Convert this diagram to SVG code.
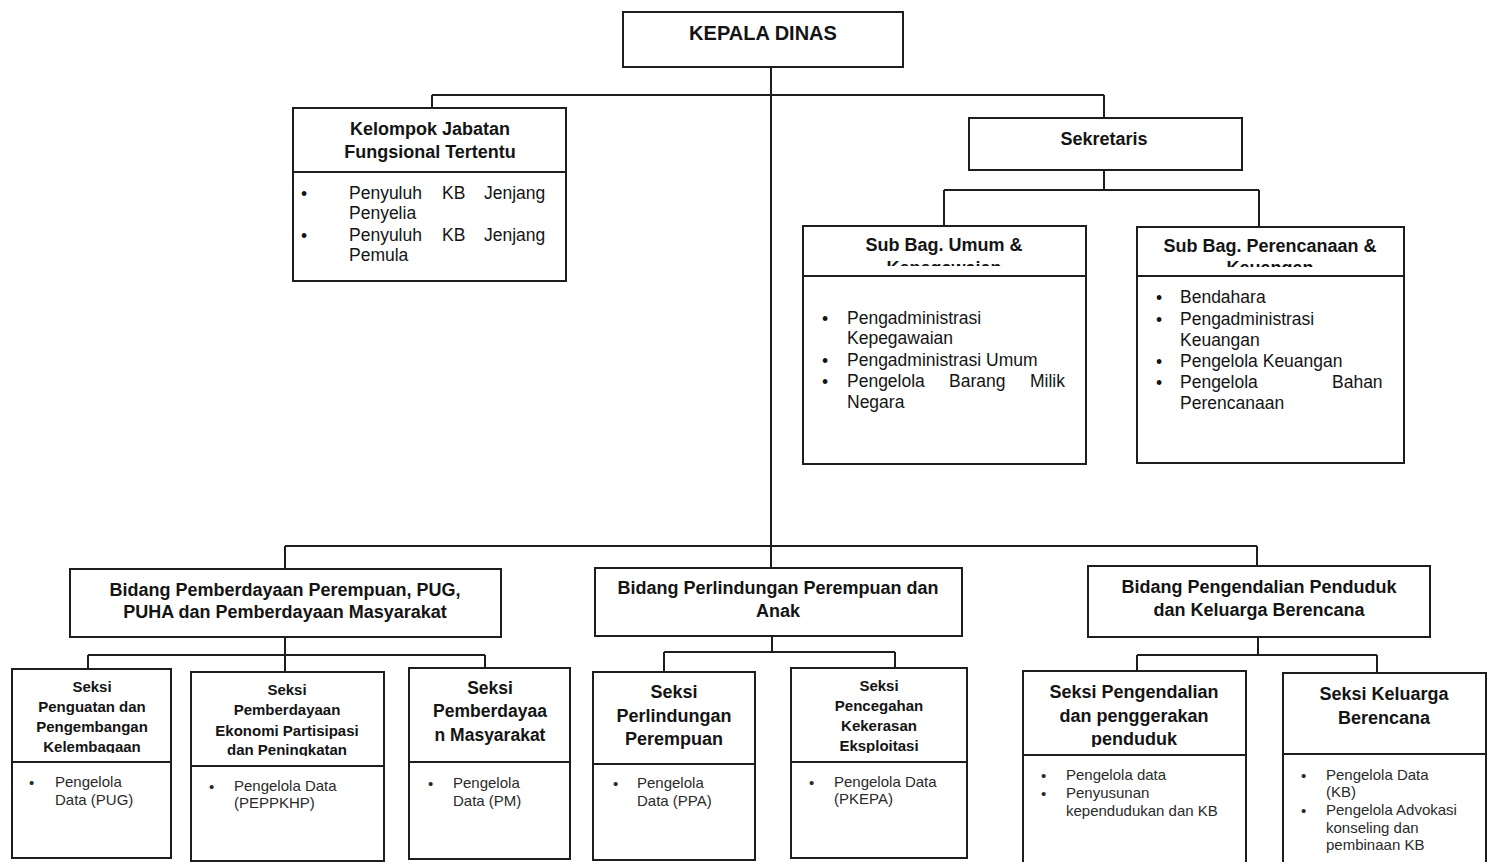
<svg xmlns="http://www.w3.org/2000/svg" width="1492" height="862" viewBox="0 0 1492 862">
<style>
.box{fill:#fff;stroke:#1e1e1e;stroke-width:2}
.ln{fill:none;stroke:#1e1e1e;stroke-width:2}
text{font-family:"Liberation Sans",Arial,sans-serif;fill:#141414}
.h{font-weight:bold;text-anchor:middle}
.h20{font-size:20px}
.h18{font-size:18px}
.h17{font-size:17.5px}
.h15{font-size:15px}
.r18{font-size:17.5px}
.r15{font-size:15px;fill:#2a2a2a}
</style>
<defs>
<clipPath id="cUmum"><rect x="803" y="226" width="283" height="40"/></clipPath>
<clipPath id="cRen"><rect x="1137" y="227" width="267" height="40"/></clipPath>
<clipPath id="cS1"><rect x="12" y="669" width="159" height="84"/></clipPath>
<clipPath id="cS2"><rect x="191" y="672" width="193" height="84"/></clipPath>
<clipPath id="cS5"><rect x="791" y="668" width="176" height="85"/></clipPath>
<clipPath id="cS6"><rect x="1023" y="671" width="223" height="76"/></clipPath>
</defs>

<g id="connectors">
<path class="ln" d="M771 67V568M432 95H1104M432 95V108M1104 95V118"/>
<path class="ln" d="M1104 170V190M944 190H1259M944 190V226M1259 190V227"/>
<path class="ln" d="M285 546H1257M285 546V569M1257 546V566"/>
<path class="ln" d="M285 637V655M88 655H485M88 655V669M285 655V672M485 655V668"/>
<path class="ln" d="M772 636V652M664 652H895M664 652V672M895 652V668"/>
<path class="ln" d="M1258 637V655M1137 655H1377M1137 655V671M1377 655V673"/>
</g>

<g id="kepala-dinas">
<rect class="box" x="623" y="12" width="280" height="55"/>
<text class="h h20" x="763" y="40">KEPALA DINAS</text>
</g>

<g id="kelompok-jabatan">
<rect class="box" x="293" y="108" width="273" height="173"/>
<path class="ln" d="M293 172H566"/>
<text class="h h18" x="430" y="135">Kelompok Jabatan</text>
<text class="h h18" x="430" y="158">Fungsional Tertentu</text>
<text class="r18" x="301" y="200">•</text>
<text class="r18" y="199"><tspan x="349">Penyuluh</tspan><tspan x="442">KB</tspan><tspan x="484">Jenjang</tspan></text>
<text class="r18" x="349" y="219">Penyelia</text>
<text class="r18" x="301" y="242">•</text>
<text class="r18" y="241"><tspan x="349">Penyuluh</tspan><tspan x="442">KB</tspan><tspan x="484">Jenjang</tspan></text>
<text class="r18" x="349" y="261">Pemula</text>
</g>

<g id="sekretaris">
<rect class="box" x="969" y="118" width="273" height="52"/>
<text class="h h18" x="1104" y="145">Sekretaris</text>
</g>

<g id="subbag-umum">
<rect class="box" x="803" y="226" width="283" height="238"/>
<path class="ln" d="M803 276H1086"/>
<text class="h h18" x="944" y="251">Sub Bag. Umum &amp;</text>
<text class="h h18" x="944" y="274" clip-path="url(#cUmum)">Kepegawaian</text>
<text class="r18" x="822" y="325">•</text>
<text class="r18" x="847" y="324">Pengadministrasi</text>
<text class="r18" x="847" y="344">Kepegawaian</text>
<text class="r18" x="822" y="367">•</text>
<text class="r18" x="847" y="366">Pengadministrasi Umum</text>
<text class="r18" x="822" y="388">•</text>
<text class="r18" y="387"><tspan x="847">Pengelola</tspan><tspan x="949">Barang</tspan><tspan x="1030">Milik</tspan></text>
<text class="r18" x="847" y="408">Negara</text>
</g>

<g id="subbag-perencanaan">
<rect class="box" x="1137" y="227" width="267" height="236"/>
<path class="ln" d="M1137 276H1404"/>
<text class="h h18" x="1270" y="252">Sub Bag. Perencanaan &amp;</text>
<text class="h h18" x="1270" y="274" clip-path="url(#cRen)">Keuangan</text>
<text class="r18" x="1156" y="304">•</text>
<text class="r18" x="1180" y="303">Bendahara</text>
<text class="r18" x="1156" y="326">•</text>
<text class="r18" x="1180" y="325">Pengadministrasi</text>
<text class="r18" x="1180" y="346">Keuangan</text>
<text class="r18" x="1156" y="368">•</text>
<text class="r18" x="1180" y="367">Pengelola Keuangan</text>
<text class="r18" x="1156" y="389">•</text>
<text class="r18" y="388"><tspan x="1180">Pengelola</tspan><tspan x="1332">Bahan</tspan></text>
<text class="r18" x="1180" y="409">Perencanaan</text>
</g>

<g id="bidang-pemberdayaan">
<rect class="box" x="70" y="569" width="431" height="68"/>
<text class="h h18" x="285" y="596">Bidang Pemberdayaan Perempuan, PUG,</text>
<text class="h h18" x="285" y="618">PUHA dan Pemberdayaan Masyarakat</text>
</g>

<g id="bidang-perlindungan">
<rect class="box" x="595" y="568" width="367" height="68"/>
<text class="h h18" x="778" y="594">Bidang Perlindungan Perempuan dan</text>
<text class="h h18" x="778" y="617">Anak</text>
</g>

<g id="bidang-pengendalian">
<rect class="box" x="1088" y="566" width="342" height="71"/>
<text class="h h18" x="1259" y="593">Bidang Pengendalian Penduduk</text>
<text class="h h18" x="1259" y="616">dan Keluarga Berencana</text>
</g>

<g id="seksi-penguatan">
<rect class="box" x="12" y="669" width="159" height="189"/>
<path class="ln" d="M12 762H171"/>
<g clip-path="url(#cS1)">
<text class="h h15" x="92" y="692">Seksi</text>
<text class="h h15" x="92" y="712">Penguatan dan</text>
<text class="h h15" x="92" y="732">Pengembangan</text>
<text class="h h15" x="92" y="752">Kelembagaan</text>
</g>
<text class="r15" x="29" y="788">•</text>
<text class="r15" x="55" y="787">Pengelola</text>
<text class="r15" x="55" y="805">Data (PUG)</text>
</g>

<g id="seksi-ekonomi">
<rect class="box" x="191" y="672" width="193" height="189"/>
<path class="ln" d="M191 766H384"/>
<g clip-path="url(#cS2)">
<text class="h h15" x="287" y="695">Seksi</text>
<text class="h h15" x="287" y="715">Pemberdayaan</text>
<text class="h h15" x="287" y="736">Ekonomi Partisipasi</text>
<text class="h h15" x="287" y="755">dan Peningkatan</text>
</g>
<text class="r15" x="209" y="792">•</text>
<text class="r15" x="234" y="791">Pengelola Data</text>
<text class="r15" x="234" y="808">(PEPPKHP)</text>
</g>

<g id="seksi-masyarakat">
<rect class="box" x="409" y="668" width="161" height="191"/>
<path class="ln" d="M409 762H570"/>
<text class="h h17" x="490" y="694">Seksi</text>
<text class="h h17" x="490" y="717">Pemberdayaa</text>
<text class="h h17" x="490" y="741">n Masyarakat</text>
<text class="r15" x="428" y="789">•</text>
<text class="r15" x="453" y="788">Pengelola</text>
<text class="r15" x="453" y="806">Data (PM)</text>
</g>

<g id="seksi-perlindungan">
<rect class="box" x="593" y="672" width="162" height="188"/>
<path class="ln" d="M593 764H755"/>
<text class="h h18" x="674" y="698">Seksi</text>
<text class="h h18" x="674" y="722">Perlindungan</text>
<text class="h h18" x="674" y="745">Perempuan</text>
<text class="r15" x="613" y="789">•</text>
<text class="r15" x="637" y="788">Pengelola</text>
<text class="r15" x="637" y="806">Data (PPA)</text>
</g>

<g id="seksi-pencegahan">
<rect class="box" x="791" y="668" width="176" height="190"/>
<path class="ln" d="M791 762H967"/>
<g clip-path="url(#cS5)">
<text class="h h15" x="879" y="691">Seksi</text>
<text class="h h15" x="879" y="711">Pencegahan</text>
<text class="h h15" x="879" y="731">Kekerasan</text>
<text class="h h15" x="879" y="751">Eksploitasi</text>
</g>
<text class="r15" x="809" y="788">•</text>
<text class="r15" x="834" y="787">Pengelola Data</text>
<text class="r15" x="834" y="804">(PKEPA)</text>
</g>

<g id="seksi-pengendalian">
<rect class="box" x="1023" y="671" width="223" height="200"/>
<path class="ln" d="M1023 755H1246"/>
<g clip-path="url(#cS6)">
<text class="h h18" x="1134" y="698">Seksi Pengendalian</text>
<text class="h h18" x="1134" y="722">dan penggerakan</text>
<text class="h h18" x="1134" y="745">penduduk</text>
</g>
<text class="r15" x="1041" y="781">•</text>
<text class="r15" x="1066" y="780">Pengelola data</text>
<text class="r15" x="1041" y="799">•</text>
<text class="r15" x="1066" y="798">Penyusunan</text>
<text class="r15" x="1066" y="816">kependudukan dan KB</text>
</g>

<g id="seksi-kb">
<rect class="box" x="1283" y="673" width="203" height="200"/>
<path class="ln" d="M1283 754H1486"/>
<text class="h h18" x="1384" y="700">Seksi Keluarga</text>
<text class="h h18" x="1384" y="724">Berencana</text>
<text class="r15" x="1301" y="781">•</text>
<text class="r15" x="1326" y="780">Pengelola Data</text>
<text class="r15" x="1326" y="797">(KB)</text>
<text class="r15" x="1301" y="816">•</text>
<text class="r15" x="1326" y="815">Pengelola Advokasi</text>
<text class="r15" x="1326" y="833">konseling dan</text>
<text class="r15" x="1326" y="850">pembinaan KB</text>
</g>
</svg>
